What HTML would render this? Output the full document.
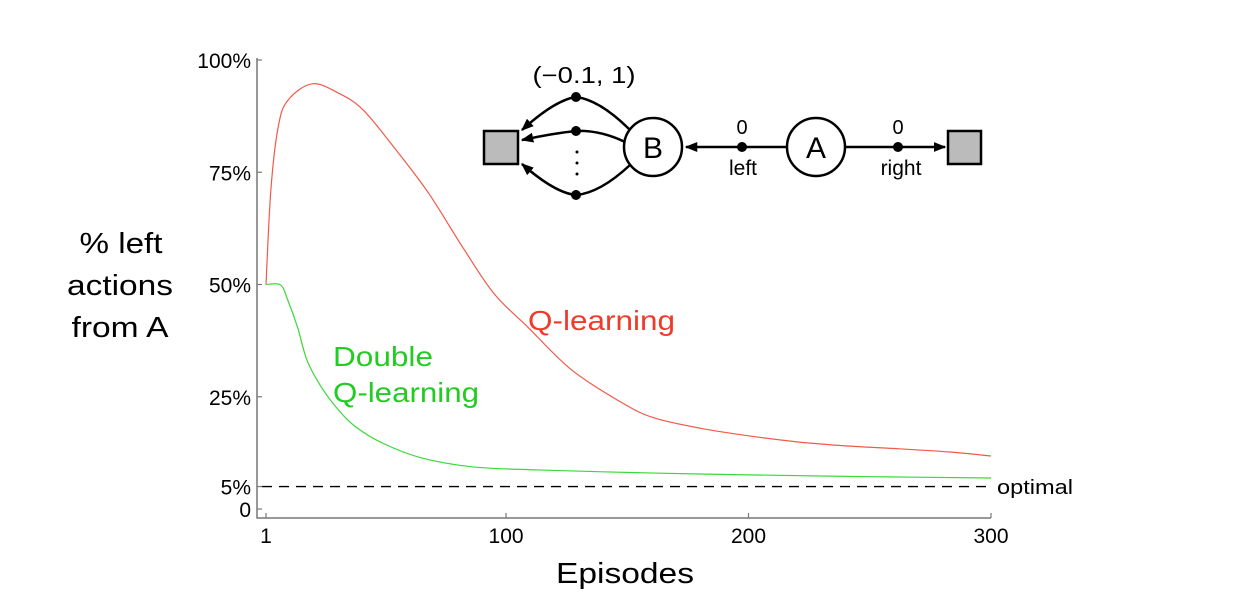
<!DOCTYPE html>
<html><head><meta charset="utf-8"><style>
body{margin:0;background:#fff;font-family:"Liberation Sans",sans-serif}
svg text{font-family:"Liberation Sans",sans-serif}
</style></head><body>
<svg id="chart" width="1236" height="610" viewBox="0 0 1236 610" xmlns="http://www.w3.org/2000/svg">
<g id="axes"></g>
<g id="series"></g>
<g font-size="29" text-anchor="middle" fill="#000">
<text x="121" y="253" textLength="83" lengthAdjust="spacingAndGlyphs">% left</text><text x="120" y="295" textLength="106" lengthAdjust="spacingAndGlyphs">actions</text><text x="120" y="337" textLength="97" lengthAdjust="spacingAndGlyphs">from A</text></g>
<text x="625" y="583" font-size="29" text-anchor="middle" textLength="138" lengthAdjust="spacingAndGlyphs">Episodes</text>
<text x="528" y="330" font-size="28" fill="#f03a2a" textLength="147" lengthAdjust="spacingAndGlyphs">Q-learning</text>
<g font-size="28" fill="#22cc22"><text x="333" y="366" textLength="100" lengthAdjust="spacingAndGlyphs">Double</text><text x="333" y="402" textLength="146" lengthAdjust="spacingAndGlyphs">Q-learning</text></g>
<text x="997" y="494" font-size="20" textLength="76" lengthAdjust="spacingAndGlyphs">optimal</text>
<g stroke="#000" stroke-width="2.5" fill="none">
<defs><marker id="ah" viewBox="0 0 10 10" refX="9" refY="5" markerWidth="5" markerHeight="5" orient="auto"><path d="M0,1 L10,5 L0,9 z" fill="#000" stroke="none"/></marker></defs>
<rect x="484" y="131" width="34" height="33" fill="#bbb"/>
<rect x="948" y="131" width="33" height="33" fill="#bbb"/>
<circle cx="653" cy="147" r="29" fill="#fff"/>
<circle cx="816" cy="147" r="29" fill="#fff"/>
<path d="M630,130 Q600,100 576,97 Q555,100 522,130" marker-end="url(#ah)"/>
<path d="M625,142 Q600,130 576,131 Q555,133 522,140" marker-end="url(#ah)"/>
<path d="M630,165 Q600,193 576,195 Q555,193 522,164" marker-end="url(#ah)"/>
<path d="M787,147 L686,147" marker-end="url(#ah)"/>
<path d="M845,147 L945,147" marker-end="url(#ah)"/>
<g fill="#000" stroke="none"><circle cx="576" cy="97" r="5"/><circle cx="576" cy="131" r="5"/><circle cx="576" cy="195" r="5"/><circle cx="742" cy="147" r="5"/><circle cx="898" cy="147" r="5"/>
<circle cx="577" cy="152" r="1.5"/><circle cx="577" cy="163" r="1.5"/><circle cx="577" cy="174" r="1.5"/></g>
<g stroke="none" fill="#000" text-anchor="middle">
<text x="653" y="158" font-size="30">B</text><text x="816" y="158" font-size="30">A</text>
<text x="742" y="134" font-size="20">0</text><text x="743" y="175" font-size="21">left</text>
<text x="898" y="134" font-size="20">0</text><text x="901" y="175" font-size="21">right</text>
<text x="584" y="83" font-size="23" font-family="Liberation Serif,serif" textLength="103" lengthAdjust="spacingAndGlyphs">(−0.1, 1)</text></g>
</g>
</svg>
<script>
const qEpisodes=[1,3,6,10,20,31,41,54,68,82,95,109,127,148,161,180,200,221,242,262,283,300];
const qValues=[50,71,85,91,94.7,92.6,88.9,80.4,70.4,58.4,48,40.5,31,23.6,20.3,18,16.3,14.9,14,13.4,12.7,11.8];
const dEpisodes=[1,7,10,14,18,24,31,38,49,65,86,113,161,200,250,300];
const dValues=[50,49.9,46.5,40.5,33,27,22,18.3,14.7,11.4,9.4,8.7,8,7.6,7.2,6.9];
const yTicks=[0,5,25,50,75,100];
const yTickLabels=["0","5%","25%","50%","75%","100%"];
const xTicks=[1,100,200,300];
const optimalValue=5;
const NS="http://www.w3.org/2000/svg";
const xs=e=>266+(e-1)*(991-266)/299;
const ys=v=>509-v*4.49;
function mk(tag,attrs,parent){const el=document.createElementNS(NS,tag);for(const k in attrs)el.setAttribute(k,attrs[k]);parent.appendChild(el);return el;}
const axes=document.getElementById('axes');
let a=mk('path',{d:'M257,58 L257,518 L991,518',stroke:'#777','stroke-width':1.5,fill:'none'},axes);


yTicks.forEach((t,i)=>{
 const y=ys(t);
 const tk=mk('line',{x1:257,x2:262,y1:y,y2:y,stroke:'#777','stroke-width':1.2},axes);
 
 
 const tx=mk('text',{x:251,y:y+8,'font-size':21,'text-anchor':'end'},axes);
 tx.textContent=yTickLabels[i];
 
 
});
xTicks.forEach(t=>{
 const x=xs(t);
 const tk=mk('line',{x1:x,x2:x,y1:518,y2:513,stroke:'#777','stroke-width':1.2},axes);
 
 
 const tx=mk('text',{x:x,y:543,'font-size':21,'text-anchor':'middle'},axes);
 tx.textContent=t;
 
 
});
const opt=mk('line',{x1:262,x2:991,y1:ys(optimalValue),y2:ys(optimalValue),stroke:'#000','stroke-width':1.3,'stroke-dasharray':'10,7'},axes);


const ser=document.getElementById('series');
function line(E,V,color,name){
 const pts=E.map((e,i)=>[xs(e),ys(V[i])]);
 let d='M'+pts[0][0]+','+pts[0][1];
 for(let i=0;i<pts.length-1;i++){
  const p0=pts[Math.max(0,i-1)],p1=pts[i],p2=pts[i+1],p3=pts[Math.min(pts.length-1,i+2)];
  const c1=[p1[0]+(p2[0]-p0[0])/6,p1[1]+(p2[1]-p0[1])/6],c2=[p2[0]-(p3[0]-p1[0])/6,p2[1]-(p3[1]-p1[1])/6];
  d+=` C${c1[0]},${c1[1]} ${c2[0]},${c2[1]} ${p2[0]},${p2[1]}`;
 }
 const p=mk('path',{d:d,stroke:color,'stroke-width':1.2,fill:'none'},ser);
 
 
}
line(qEpisodes,qValues,'#f05a4a','q-learning-line');
line(dEpisodes,dValues,'#3ad83a','double-q-learning-line');
</script>
</body></html>
